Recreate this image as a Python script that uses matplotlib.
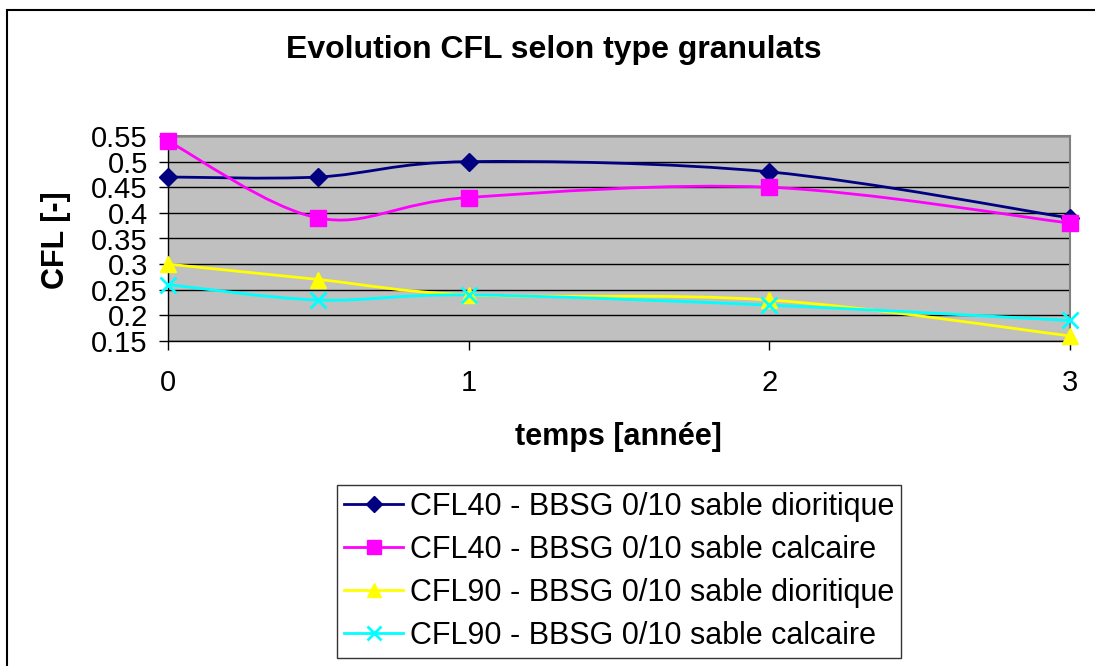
import matplotlib

matplotlib.use("Agg")

import matplotlib.pyplot as plt
import numpy as np
from matplotlib.lines import Line2D
from matplotlib.patches import PathPatch, Rectangle
from matplotlib.path import Path

plt.rcParams["font.family"] = ["Liberation Sans", "DejaVu Sans"]

temps = [0, 0.5, 1, 2, 3]
cfl40_dioritique = [0.47, 0.47, 0.50, 0.48, 0.39]
cfl40_calcaire = [0.54, 0.39, 0.43, 0.45, 0.38]
cfl90_dioritique = [0.30, 0.27, 0.24, 0.23, 0.16]
cfl90_calcaire = [0.26, 0.23, 0.24, 0.22, 0.19]

labels = [
    "CFL40 - BBSG 0/10 sable dioritique",
    "CFL40 - BBSG 0/10 sable calcaire",
    "CFL90 - BBSG 0/10 sable dioritique",
    "CFL90 - BBSG 0/10 sable calcaire",
]
colors = ["#000080", "#FF00FF", "#FFFF00", "#00FFFF"]
markers = ["D", "s", "^", "x"]
msizes = [9, 11, 11, 11]


def smooth_path(xs, ys):
    # Excel-like smoothed line: Catmull-Rom segments as cubic Bezier
    p = np.column_stack([xs, ys]).astype(float)
    ext = np.vstack([p[0], p, p[-1]])
    verts = [p[0]]
    codes = [Path.MOVETO]
    for i in range(len(p) - 1):
        p0, p1, p2, p3 = ext[i], ext[i + 1], ext[i + 2], ext[i + 3]
        c1 = p1 + (p2 - p0) / 6.0
        c2 = p2 - (p3 - p1) / 6.0
        verts += [c1, c2, p2]
        codes += [Path.CURVE4] * 3
    return Path(verts, codes)


fig = plt.figure(figsize=(10.95, 6.66), dpi=100)
fig.patches.append(Rectangle((7 / 1095, -0.1), 1.2, 1 - 10 / 666 + 0.1,
                             transform=fig.transFigure, fill=False,
                             edgecolor="black", linewidth=1.5))

ax = fig.add_axes([168 / 1095, 1 - 341 / 666, (1070 - 168) / 1095, (341 - 136) / 666])
ax.set_facecolor("#C0C0C0")

series = [cfl40_dioritique, cfl40_calcaire, cfl90_dioritique, cfl90_calcaire]
for ys, col, mk, ms in zip(series, colors, markers, msizes):
    ax.add_patch(PathPatch(smooth_path(temps, ys), facecolor="none",
                           edgecolor=col, linewidth=2, zorder=3, clip_on=False))
    ax.plot(temps, ys, linestyle="none", marker=mk, color=col, markersize=ms,
            markeredgewidth=2 if mk == "x" else 1, zorder=4, clip_on=False)

ax.set_xlim(0, 3)
ax.set_ylim(0.15, 0.55)
ax.set_xticks([0, 1, 2, 3])
ax.set_xticklabels(["0", "1", "2", "3"])
yt = np.arange(0.15, 0.5501, 0.05)
ax.set_yticks(yt)
ax.set_yticklabels(["0.15", "0.2", "0.25", "0.3", "0.35", "0.4", "0.45", "0.5", "0.55"])
ax.grid(axis="y", color="black", linewidth=1)
ax.set_axisbelow(True)
ax.tick_params(axis="both", labelsize=21, direction="out", length=6.5, width=1,
               colors="black")
ax.tick_params(axis="y", pad=8)
ax.tick_params(axis="x", pad=14)
for side in ["top", "right"]:
    ax.spines[side].set_color("#808080")
    ax.spines[side].set_linewidth(1.5)
for side in ["left", "bottom"]:
    ax.spines[side].set_color("black")
    ax.spines[side].set_linewidth(1)

fig.text(554 / 1095, 1 - 58 / 666, "Evolution CFL selon type granulats",
         ha="center", va="baseline", fontsize=23, fontweight="bold")
fig.text(618 / 1095, 1 - 445 / 666, "temps [année]", ha="center", va="baseline",
         fontsize=22, fontweight="bold")
fig.text(56 / 1095, 1 - 240 / 666, "CFL [-]", ha="center", va="center",
         fontsize=22, fontweight="bold", rotation=90)

handles = [Line2D([0], [0], color=c, marker=m, markersize=s * 0.9, linewidth=2,
                  markeredgewidth=2 if m == "x" else 1)
           for c, m, s in zip(colors, markers, msizes)]
leg = fig.legend(handles, labels, loc="upper left",
                 bbox_to_anchor=(337 / 1095, 1 - 485 / 666), fontsize=22,
                 frameon=True, fancybox=False, edgecolor="black",
                 handlelength=1.95, handletextpad=0.23, labelspacing=0.43,
                 borderpad=0.22, borderaxespad=0)
leg.get_frame().set_linewidth(1)

fig.savefig("out.png", dpi=100)
